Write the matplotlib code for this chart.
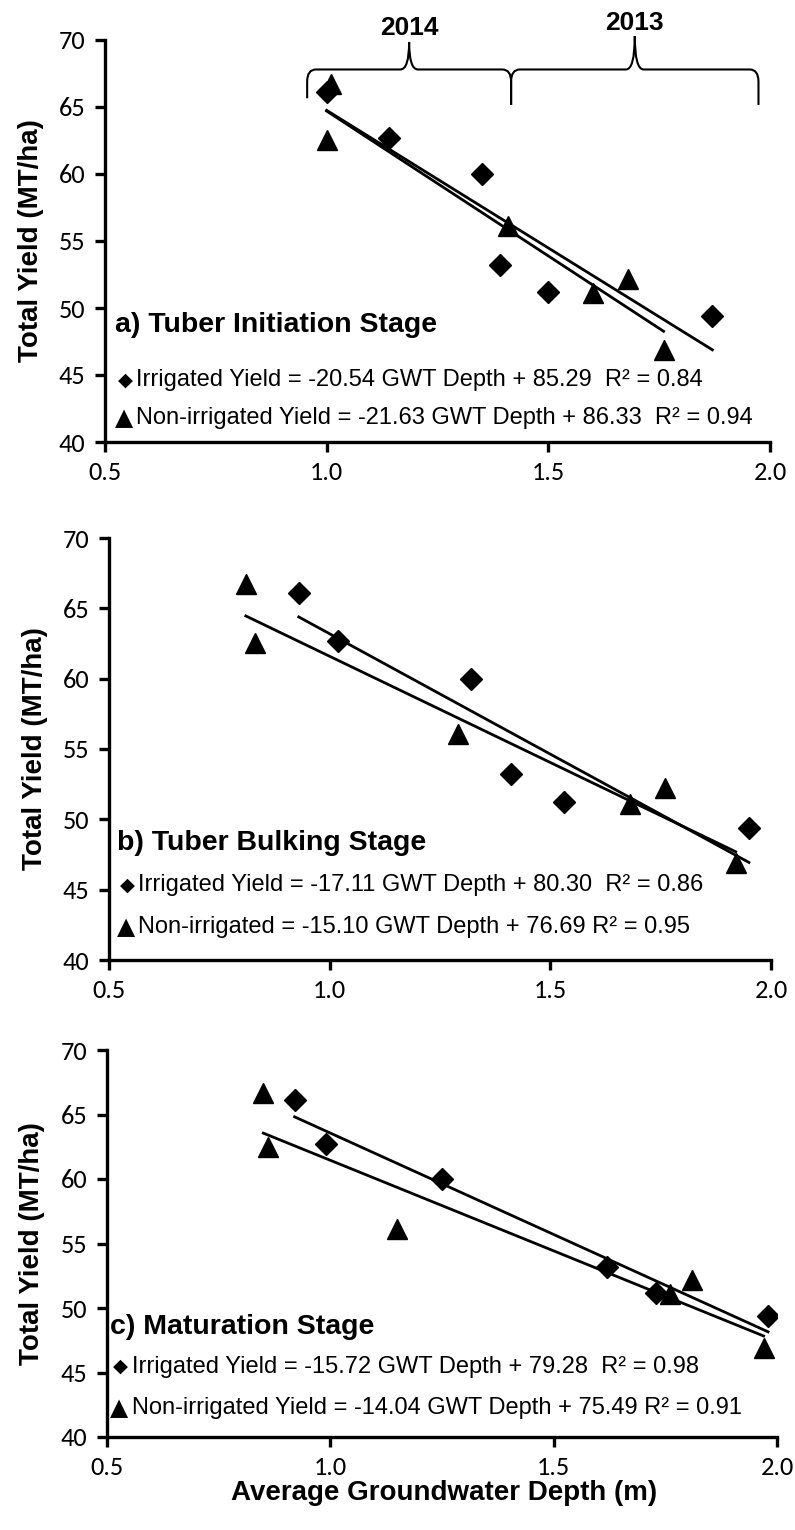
import matplotlib
matplotlib.use("Agg")
import matplotlib.pyplot as plt
from matplotlib import font_manager
from matplotlib.path import Path
from matplotlib.patches import PathPatch
import numpy as np


def pick(*names):
    have = {f.name for f in font_manager.fontManager.ttflist}
    for n in names:
        if n in have:
            return n
    return "DejaVu Sans"


TICK_FONT = pick("Carlito", "Lato")
TEXT_FONT = pick("Liberation Sans", "Arial")
NARROW_FONT = pick("Liberation Sans Narrow", "Liberation Sans")

# yields (same plots in every stage), MT/ha
irr_yield = [66.1, 62.7, 60.0, 53.2, 51.2, 49.4]
non_yield = [66.7, 62.5, 56.1, 51.1, 52.2, 46.9]

# average groundwater depth (m) for each stage
irr_depth = {
    "a": [1.00, 1.14, 1.35, 1.39, 1.50, 1.87],
    "b": [0.93, 1.02, 1.32, 1.41, 1.53, 1.95],
    "c": [0.92, 0.99, 1.25, 1.62, 1.73, 1.98],
}
non_depth = {
    "a": [1.01, 1.00, 1.41, 1.60, 1.68, 1.76],
    "b": [0.81, 0.83, 1.29, 1.68, 1.76, 1.92],
    "c": [0.85, 0.86, 1.15, 1.76, 1.81, 1.97],
}

# fitted trend lines: slope, intercept, r2
irr_fit = {"a": (-20.54, 85.29, 0.84), "b": (-17.11, 80.30, 0.86), "c": (-15.72, 79.28, 0.98)}
non_fit = {"a": (-21.63, 86.33, 0.94), "b": (-15.10, 76.69, 0.95), "c": (-14.04, 75.49, 0.91)}

titles = {"a": "a) Tuber Initiation Stage", "b": "b) Tuber Bulking Stage", "c": "c) Maturation Stage"}
irr_text = {
    "a": "Irrigated Yield = -20.54 GWT Depth + 85.29  R\u00b2 = 0.84",
    "b": "Irrigated Yield = -17.11 GWT Depth + 80.30  R\u00b2 = 0.86",
    "c": "Irrigated Yield = -15.72 GWT Depth + 79.28  R\u00b2 = 0.98",
}
non_text = {
    "a": "Non-irrigated Yield = -21.63 GWT Depth + 86.33  R\u00b2 = 0.94",
    "b": "Non-irrigated = -15.10 GWT Depth + 76.69 R\u00b2 = 0.95",
    "c": "Non-irrigated Yield = -14.04 GWT Depth + 75.49 R\u00b2 = 0.91",
}

# year groups marked with braces on panel a (depth range)
years = ["2014", "2013"]
year_lo = [0.956, 1.416]
year_hi = [1.416, 1.974]

xticks = [0.5, 1.0, 1.5, 2.0]
yticks = [40, 45, 50, 55, 60, 65, 70]

W, H = 795, 1530
fig = plt.figure(figsize=(W / 100, H / 100), dpi=100)

# axes boxes in pixels: left, right, top, bottom
boxes = {"a": (105, 770, 40, 442), "b": (109, 771, 538, 960), "c": (107, 777, 1050, 1437)}
# text rows in axes fraction: title, eq1, eq2, x
rows = {"a": (0.291, 0.154, 0.060, 0.015), "b": (0.277, 0.178, 0.079, 0.012), "c": (0.285, 0.182, 0.074, 0.005)}

axes = {}
for key, (l, r, t, b) in boxes.items():
    ax = fig.add_axes([l / W, 1 - b / H, (r - l) / W, (b - t) / H])
    axes[key] = ax

    xi, yi = np.array(irr_depth[key]), np.array(irr_yield)
    xn, yn = np.array(non_depth[key]), np.array(non_yield)

    m, c0, _ = irr_fit[key]
    xs = np.array([xi.min(), xi.max()])
    ax.plot(xs, m * xs + c0, color="black", lw=2.0, zorder=2)
    m, c0, _ = non_fit[key]
    xs = np.array([xn.min(), xn.max()])
    ax.plot(xs, m * xs + c0, color="black", lw=2.0, zorder=2)

    ax.plot(xn, yn, linestyle="none", marker="^", ms=15, color="black", zorder=3)
    ax.plot(xi, yi, linestyle="none", marker="D", ms=11, color="black", zorder=4)

    ax.set_xlim(0.5, 2.0)
    ax.set_ylim(40, 70)
    ax.set_xticks(xticks)
    ax.set_xticklabels([f"{v:.1f}" for v in xticks])
    ax.set_yticks(yticks)
    for s in ("top", "right"):
        ax.spines[s].set_visible(False)
    for s in ("left", "bottom"):
        ax.spines[s].set_linewidth(2.4)
    ax.tick_params(width=2.4, length=7, direction="out", labelsize=19, pad=7)
    for lab in ax.get_xticklabels() + ax.get_yticklabels():
        lab.set_fontfamily(TICK_FONT)
    ax.patch.set_alpha(0)

    ty, e1, e2, tx = rows[key]
    ax.text(tx, ty, titles[key], transform=ax.transAxes, fontsize=20.5, fontweight="bold",
            family=TEXT_FONT, va="center", ha="left")
    # legend glyphs drawn as separate symbols, then the equation text
    ax.text(tx + 0.004, e1, "\u25c6", transform=ax.transAxes, fontsize=14,
            family="DejaVu Sans", va="center", ha="left")
    ax.text(tx + 0.032, e1, irr_text[key], transform=ax.transAxes, fontsize=17,
            family=TEXT_FONT, va="center", ha="left")
    ax.text(tx, e2, "\u25b2", transform=ax.transAxes, fontsize=17,
            family="DejaVu Sans", va="center", ha="left")
    ax.text(tx + 0.032, e2, non_text[key], transform=ax.transAxes, fontsize=17,
            family=TEXT_FONT, va="center", ha="left")

    ax.set_ylabel("Total Yield (MT/ha)", fontsize=20, fontweight="bold", family=NARROW_FONT)
    ax.yaxis.set_label_coords(-0.092, 0.5)


def brace(ax, x0, x1, y_line, y_end0, y_end1, y_tip, label, label_y):
    xm = (x0 + x1) / 2
    rx = 0.02
    ry = 0.9
    verts = [
        (x0, y_end0), (x0, y_line - ry), (x0, y_line), (x0 + rx, y_line),
        (xm - rx, y_line), (xm, y_line), (xm, y_tip),
        (xm, y_line), (xm + rx, y_line),
        (x1 - rx, y_line), (x1, y_line), (x1, y_line - ry), (x1, y_end1),
    ]
    codes = [
        Path.MOVETO, Path.LINETO, Path.CURVE3, Path.CURVE3,
        Path.LINETO, Path.CURVE3, Path.CURVE3,
        Path.CURVE3, Path.CURVE3,
        Path.LINETO, Path.CURVE3, Path.CURVE3, Path.LINETO,
    ]
    ax.add_patch(PathPatch(Path(verts, codes), fill=False, lw=1.5, color="black",
                           clip_on=False, zorder=5))
    ax.text(xm, label_y, label, ha="center", va="center", fontsize=19,
            fontweight="bold", family=NARROW_FONT, clip_on=False)


ax = axes["a"]
brace(ax, year_lo[0], year_hi[0], 67.8, 65.65, 65.15, 69.85, years[0], 70.9)
brace(ax, year_lo[1], year_hi[1], 67.8, 65.15, 65.15, 70.3, years[1], 71.25)

axc = axes["c"]
axc.set_xlabel("Average Groundwater Depth (m)", fontsize=20, fontweight="bold", family=NARROW_FONT)
axc.xaxis.set_label_coords(0.503, -0.112)

fig.savefig("out.png", dpi=100)
